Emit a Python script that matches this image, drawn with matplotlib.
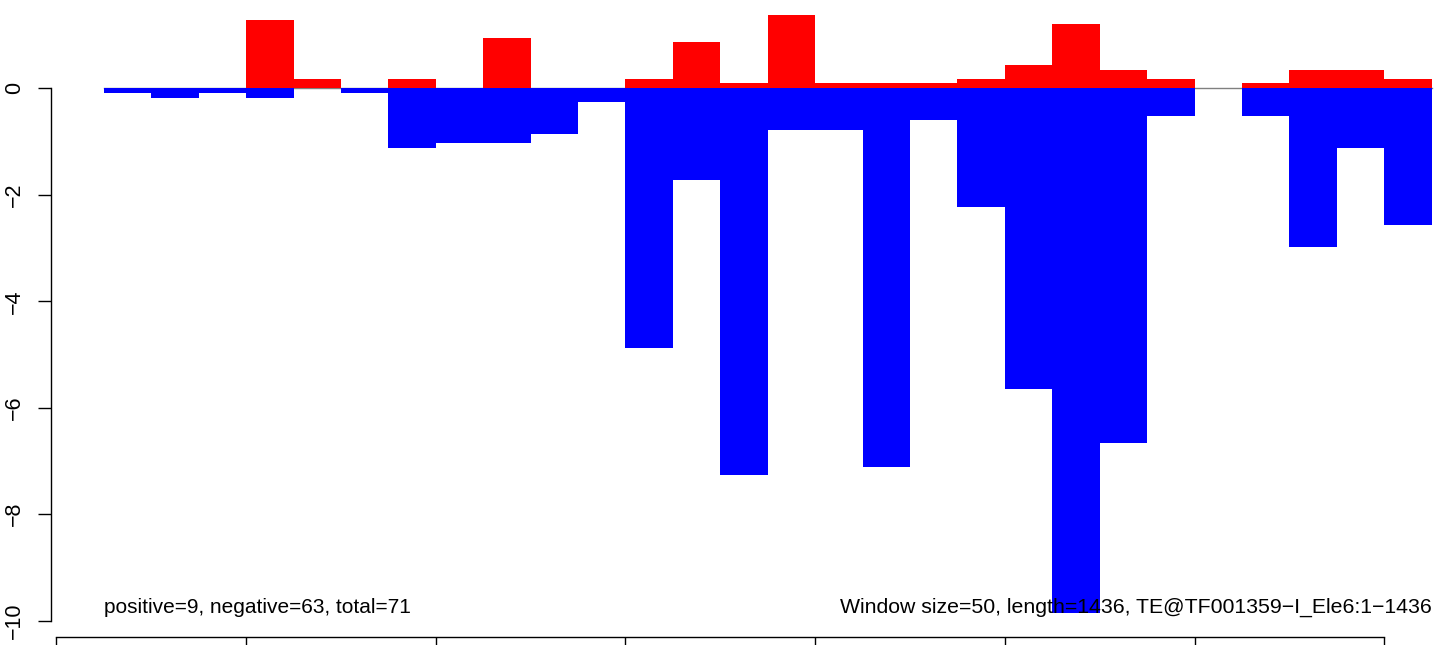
import matplotlib
matplotlib.use("Agg")
import matplotlib.pyplot as plt

plt.rcParams['font.family'] = ['Liberation Sans', 'DejaVu Sans']

# window layout: 50 bp windows, drawn from 50 to 1450
window = 50
starts = [50 + window * i for i in range(28)]

# positive scores per window (red)
pos_vals = [0, 0, 0, 1.28, 0.175, 0, 0.175, 0, 0.945, 0, 0, 0.175, 0.87, 0.105,
            1.376, 0.1, 0.1, 0.1, 0.175, 0.44, 1.21, 0.344, 0.175, 0, 0.1, 0.344,
            0.344, 0.175]
# negative scores per window (blue)
neg_vals = [-0.08, -0.18, -0.08, -0.18, 0, -0.08, -1.115, -1.02, -1.02, -0.85,
            -0.25, -4.87, -1.72, -7.27, -0.78, -0.78, -7.11, -0.6, -2.23, -5.64,
            -9.85, -6.67, -0.52, 0, -0.52, -2.99, -1.115, -2.56]

yticks = [0, -2, -4, -6, -8, -10]
xticks = [0, 200, 400, 600, 800, 1000, 1200, 1400]
left_note = "positive=9, negative=63, total=71"
right_note = "Window size=50, length=1436, TE@TF001359\u2212I_Ele6:1\u22121436"

W, H = 1444, 645
fig = plt.figure(figsize=(W / 100, H / 100), dpi=100)
ax = fig.add_axes([50.7 / W, 8.3 / H, 1 - 50.7 / W, 1 - 8.3 / H])

# zero line under the bars
ax.plot([starts[0], starts[-1] + window], [0, 0], color='gray', lw=1.0, zorder=1)

ax.bar(starts, pos_vals, width=window, align='edge', color='#ff0000', linewidth=0, zorder=2)
ax.bar(starts, neg_vals, width=window, align='edge', color='#0000ff', linewidth=0, zorder=2)

ax.set_xlim(-6, 1463)
ax.set_ylim(-10.30, 1.658)

# R-style axes
for s in ['top', 'right']:
    ax.spines[s].set_visible(False)
ax.spines['left'].set_bounds(-10, 0)
ax.spines['bottom'].set_bounds(0, 1400)
for s in ['left', 'bottom']:
    ax.spines[s].set_linewidth(1.0)

ax.set_yticks(yticks)
ax.set_yticklabels([str(t).replace('-', '\u2212') for t in yticks],
                   rotation=90, va='center', fontsize=15.5)
ax.set_xticks(xticks)
ax.tick_params(axis='both', direction='out', length=9.6, width=1.0)
ax.tick_params(axis='y', pad=9)
ax.tick_params(axis='x', labelbottom=False)

ax.text(50, -9.85, left_note, ha='left', va='baseline', fontsize=15)
ax.text(1450, -9.85, right_note, ha='right', va='baseline', fontsize=15.3)

fig.savefig('out.png', dpi=100)
